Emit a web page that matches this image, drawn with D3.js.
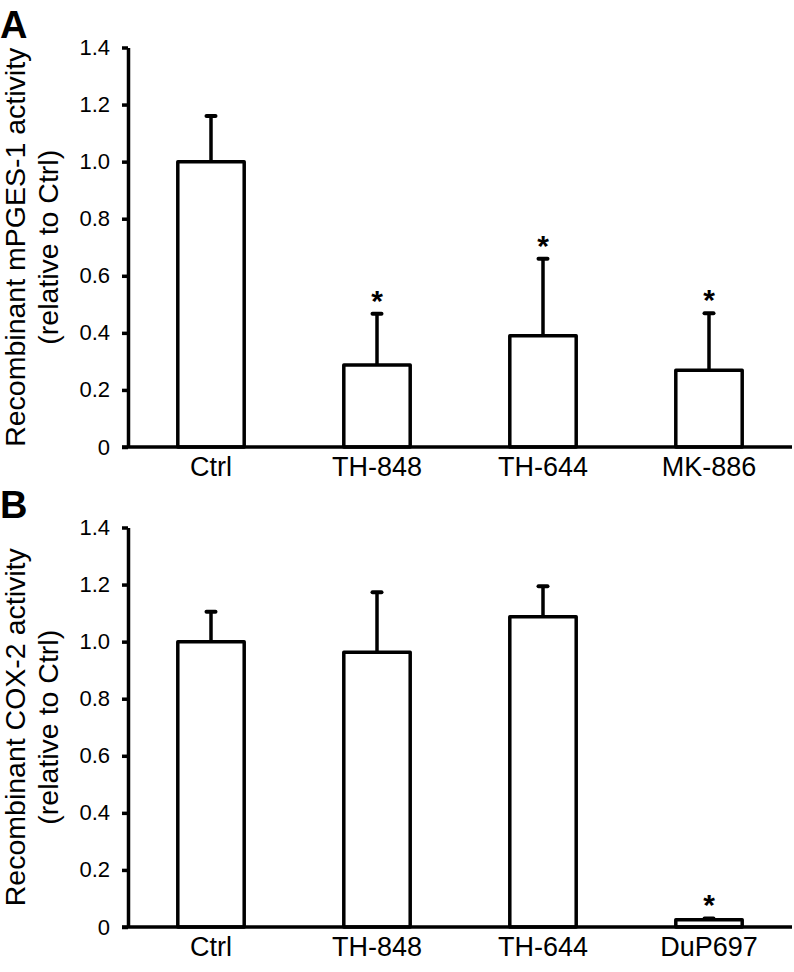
<!DOCTYPE html>
<html>
<head>
<meta charset="utf-8">
<script src="https://cdn.jsdelivr.net/npm/d3@7"></script>
<style>
	body { margin: 0; background: #fff; }
	svg text { font-family: "Liberation Sans", Arial, sans-serif; fill: #000; }
</style>
</head>
<body>
<svg id="chart" width="794" height="972"></svg>
<script>
// values
var categoriesA = ["Ctrl", "TH-848", "TH-644", "MK-886"];
var meansA  = [1.0, 0.287, 0.39, 0.269];
var errorsA = [0.16, 0.18, 0.27, 0.20];
var starsA  = [false, true, true, true];

var categoriesB = ["Ctrl", "TH-848", "TH-644", "DuP697"];
var meansB  = [1.0, 0.963, 1.087, 0.025];
var errorsB = [0.105, 0.21, 0.107, 0.005];
var starsB  = [false, false, false, true];

var yTicks = [0, 0.2, 0.4, 0.6, 0.8, 1.0, 1.2, 1.4];
var yTickLabels = ["0", "0.2", "0.4", "0.6", "0.8", "1.0", "1.2", "1.4"];

var svg = d3.select("#chart");

function drawPanel(args) {
	var g = svg.append("g").attr("transform", "translate(0," + args.top + ")");
	var h = 399.5;
	var x0 = 128, x1 = 792;

	var x = d3.scaleBand()
		.domain(args.categories)
		.range([x0, x1])
		.paddingInner(0.6)
		.paddingOuter(0.3);

	var y = d3.scaleLinear().domain([0, 1.4]).range([h, 0]);

	var rows = args.categories.map(function (c, i) {
		return { cat: c, mean: args.means[i], err: args.errors[i], star: args.stars[i] };
	});

	// bars
	g.selectAll("rect.bar")
		.data(rows)
		.enter().append("rect")
		.attr("class", "bar")
		.attr("x", function (d) { return x(d.cat); })
		.attr("y", function (d) { return y(d.mean); })
		.attr("width", x.bandwidth())
		.attr("height", function (d) { return h - y(d.mean); })
		.attr("fill", "#fff")
		.attr("stroke", "#000")
		.attr("stroke-width", 3.5)
		.attr("stroke-linejoin", "round");

	// error bars, upper half only
	var cx = function (d) { return x(d.cat) + x.bandwidth() / 2; };
	g.selectAll("line.err")
		.data(rows)
		.enter().append("line")
		.attr("class", "err")
		.attr("x1", cx).attr("x2", cx)
		.attr("y1", function (d) { return y(d.mean); })
		.attr("y2", function (d) { return y(d.mean + d.err); })
		.attr("stroke", "#000")
		.attr("stroke-width", 3.5);

	g.selectAll("line.cap")
		.data(rows)
		.enter().append("line")
		.attr("class", "cap")
		.attr("x1", function (d) { return cx(d) - 4.5; })
		.attr("x2", function (d) { return cx(d) + 4.5; })
		.attr("y1", function (d) { return y(d.mean + d.err); })
		.attr("y2", function (d) { return y(d.mean + d.err); })
		.attr("stroke", "#000")
		.attr("stroke-width", 4)
		.attr("stroke-linecap", "round");

	g.selectAll("text.star")
		.data(rows.filter(function (d) { return d.star; }))
		.enter().append("text")
		.attr("class", "star")
		.attr("x", cx)
		.attr("y", function (d) { return y(d.mean + d.err) - 3; })
		.attr("text-anchor", "middle")
		.attr("font-size", 30)
		.attr("font-weight", "bold")
		.text("*");

	// y axis
	var yAxis = d3.axisLeft(y)
		.tickValues(yTicks)
		.tickFormat(function (d, i) { return yTickLabels[i]; })
		.tickSizeInner(6)
		.tickSizeOuter(0)
		.tickPadding(12);

	var ya = g.append("g")
		.attr("transform", "translate(" + x0 + ",0)")
		.call(yAxis);
	ya.select(".domain").attr("stroke-width", 3.5);
	ya.selectAll(".tick line").attr("stroke-width", 3.5);
	ya.selectAll(".tick text")
		.attr("font-size", 22)
		.attr("font-family", "Liberation Sans, Arial, sans-serif");

	// x axis: line plus labels, no ticks
	var xAxis = d3.axisBottom(x).tickSize(0).tickPadding(10);
	var xa = g.append("g")
		.attr("transform", "translate(0," + h + ")")
		.call(xAxis);
	xa.select(".domain")
		.attr("d", "M" + (x0 - 6) + ",0H" + x1)
		.attr("stroke-width", 3.5);
	xa.selectAll(".tick text")
		.attr("font-size", 27)
		.attr("font-family", "Liberation Sans, Arial, sans-serif");

	// y title, two lines
	var title = g.append("text")
		.attr("transform", "translate(0," + (h / 2) + ") rotate(-90)")
		.attr("text-anchor", "middle")
		.attr("font-size", 28.5);
	title.append("tspan").attr("x", 0).attr("y", 25).text(args.title1);
	title.append("tspan").attr("x", 0).attr("y", 58).text(args.title2);

	// panel letter
	svg.append("text")
		.attr("x", 0)
		.attr("y", args.top - 10)
		.attr("font-size", 38)
		.attr("font-weight", "bold")
		.text(args.letter);
}

drawPanel({
	top: 47.5,
	letter: "A",
	categories: categoriesA, means: meansA, errors: errorsA, stars: starsA,
	title1: "Recombinant mPGES-1 activity",
	title2: "(relative to Ctrl)"
});

drawPanel({
	top: 527.5,
	letter: "B",
	categories: categoriesB, means: meansB, errors: errorsB, stars: starsB,
	title1: "Recombinant COX-2 activity",
	title2: "(relative to Ctrl)"
});
</script>
</body>
</html>
